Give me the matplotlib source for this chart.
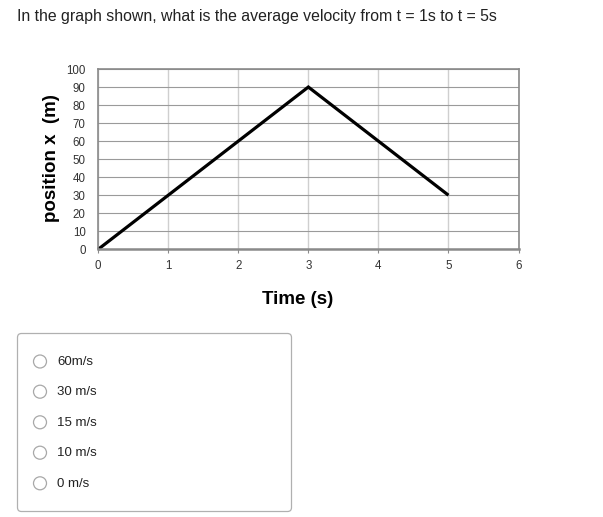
import matplotlib
matplotlib.use("Agg")
import matplotlib.pyplot as plt
from matplotlib.patches import Circle, FancyBboxPatch

# Data
times = [0, 1, 2, 3, 4, 5]
positions = [0, 30, 60, 90, 60, 30]
x_ticks = [0, 1, 2, 3, 4, 5, 6]
y_ticks = [0, 10, 20, 30, 40, 50, 60, 70, 80, 90, 100]
question = "In the graph shown, what is the average velocity from t = 1s to t = 5s"
choices = ["60m/s", "30 m/s", "15 m/s", "10 m/s", "0 m/s"]

plt.rcParams['font.family'] = ['Liberation Sans', 'DejaVu Sans']

W, H = 603, 517
fig = plt.figure(figsize=(W / 100, H / 100), dpi=100)

# Background axes in pixel coordinates
bg = fig.add_axes([0, 0, 1, 1], zorder=0)
bg.set_xlim(0, W)
bg.set_ylim(H, 0)
bg.axis('off')

bg.text(17, 17, question, fontsize=11.4, va='center', ha='left', color='#222222')

box = FancyBboxPatch((17.5, 333.5), 274, 178, boxstyle="round,pad=0,rounding_size=4",
                     fc='white', ec='#b0b0b0', lw=0.9)
bg.add_patch(box)
ys = [361.5, 391.7, 422.3, 452.7, 483.3]
for y, lab in zip(ys, choices):
    bg.add_patch(Circle((40, y), 6.5, fc='white', ec='#a8a8a8', lw=0.9))
    bg.text(57, y + 0.5, lab, fontsize=9.5, va='center', ha='left', color='#222222')

# Main chart axes
left, right = 98.2, 518.5
top, bottom = 69.0, 249.3
ax = fig.add_axes([left / W, 1 - bottom / H, (right - left) / W, (bottom - top) / H], zorder=1)
ax.set_xlim(0, 6)
ax.set_ylim(0, 100)
ax.set_xticks(x_ticks)
ax.set_yticks(y_ticks)
ax.grid(axis='x', color='#cfcfcf', lw=1.0)
ax.grid(axis='y', color='#9a9a9a', lw=0.8)
ax.set_axisbelow(True)
for s in ax.spines.values():
    s.set_color('#8a8a8a')
    s.set_linewidth(1.2)
ax.spines['bottom'].set_linewidth(1.8)
ax.tick_params(axis='both', length=3, color='#8a8a8a', labelsize=8.3, labelcolor='#333333')
ax.tick_params(axis='y', length=0, pad=9)
ax.tick_params(axis='x', pad=5)

ax.plot(times, positions, color='black', lw=2.3, solid_capstyle='butt', solid_joinstyle='miter', clip_on=False)

fig.text(51 / W, 1 - 158 / H, "position x  (m)", rotation=90, fontsize=13.5, fontweight='bold',
         ha='center', va='center')
fig.text(298 / W, 1 - 300 / H, "Time (s)", fontsize=13.5, fontweight='bold', ha='center', va='center')

fig.savefig("out.png", dpi=100)
